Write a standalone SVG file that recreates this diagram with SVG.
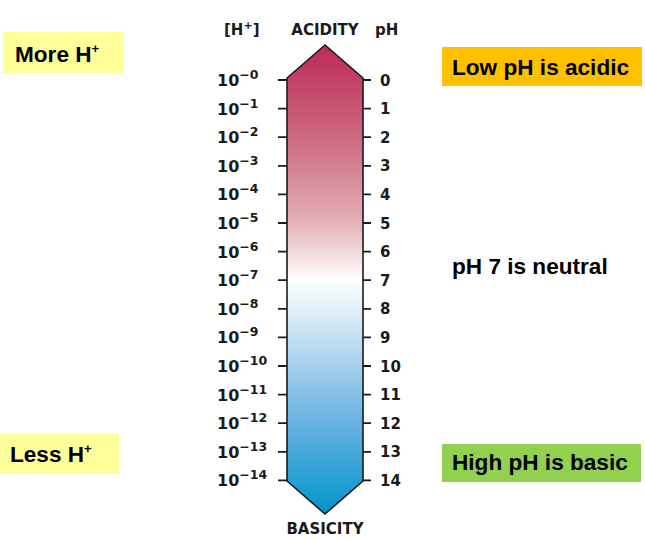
<svg xmlns="http://www.w3.org/2000/svg" width="645" height="540" viewBox="0 0 645 540">
<defs>
<linearGradient id="phgrad" x1="0" y1="45" x2="0" y2="515" gradientUnits="userSpaceOnUse">
<stop offset="0" stop-color="#be2a5a"/>
<stop offset="0.19" stop-color="#cb667d"/>
<stop offset="0.375" stop-color="#e3b0b6"/>
<stop offset="0.46" stop-color="#f6e6e7"/>
<stop offset="0.5" stop-color="#ffffff"/>
<stop offset="0.62" stop-color="#c4e0f2"/>
<stop offset="0.8" stop-color="#6ab2e2"/>
<stop offset="1" stop-color="#0094cc"/>
</linearGradient>
</defs>
<style>
.box{font-family:"Liberation Sans",Arial,sans-serif;font-weight:bold;font-size:22.6px;fill:#000}
.sup{font-size:13px}
.hdr{font-family:"DejaVu Sans",sans-serif;font-weight:bold;font-size:15px;fill:#1a1a1a}
.lab{font-family:"DejaVu Sans",sans-serif;font-weight:bold;font-size:16px;fill:#1a1a1a}
.lsup{font-size:12.5px}
.rlab{font-family:"DejaVu Sans",sans-serif;font-weight:bold;font-size:15px;fill:#1a1a1a}
.tick{stroke:#1a1a1a;stroke-width:1.8}
</style>
<rect width="645" height="540" fill="#fff"/>
<g id="more-h">
<rect x="3" y="32" width="121" height="41" fill="#ffff99"/>
<text class="box" x="15" y="62">More H<tspan class="sup" dy="-9">+</tspan></text>
</g>
<g id="less-h">
<rect x="0" y="434" width="119" height="40" fill="#ffff99"/>
<text class="box" x="10" y="462">Less H<tspan class="sup" dy="-9">+</tspan></text>
</g>
<g id="low-ph">
<rect x="442" y="47" width="200" height="39" fill="#ffc000"/>
<text class="box" x="452" y="75">Low pH is acidic</text>
</g>
<g id="neutral">
<text class="box" x="452" y="274">pH 7 is neutral</text>
</g>
<g id="high-ph">
<rect x="442" y="444" width="199" height="38" fill="#92d050"/>
<text class="box" x="452" y="470">High pH is basic</text>
</g>
<g id="headers">
<text class="hdr" x="224" y="35">[H<tspan font-size="11" dy="-6">+</tspan><tspan dy="6">]</tspan></text>
<text class="hdr" x="325" y="35" text-anchor="middle">ACIDITY</text>
<text class="hdr" x="375" y="35">pH</text>
<text class="hdr" x="325" y="534" text-anchor="middle">BASICITY</text>
</g>
<g id="scale-bar">
<polygon points="325,45 287,78 287,481 325,514 363,481 363,78" fill="url(#phgrad)" stroke="#1a1a1a" stroke-width="1.6" stroke-linejoin="miter"/>
</g>
<g id="ticks">
<path class="tick" d="M278,80H287M278,108.6H287M278,137.2H287M278,165.8H287M278,194.4H287M278,223H287M278,251.6H287M278,280.2H287M278,308.8H287M278,337.4H287M278,366H287M278,394.6H287M278,423.2H287M278,451.8H287M278,480.4H287"/>
<path class="tick" d="M363,80H371M363,108.6H371M363,137.2H371M363,165.8H371M363,194.4H371M363,223H371M363,251.6H371M363,280.2H371M363,308.8H371M363,337.4H371M363,366H371M363,394.6H371M363,423.2H371M363,451.8H371M363,480.4H371"/>
</g>
<g id="h-labels" class="lab">
<text x="217" y="86">10<tspan class="lsup" dy="-7">−0</tspan></text>
<text x="217" y="114.6">10<tspan class="lsup" dy="-7">−1</tspan></text>
<text x="217" y="143.2">10<tspan class="lsup" dy="-7">−2</tspan></text>
<text x="217" y="171.8">10<tspan class="lsup" dy="-7">−3</tspan></text>
<text x="217" y="200.4">10<tspan class="lsup" dy="-7">−4</tspan></text>
<text x="217" y="229">10<tspan class="lsup" dy="-7">−5</tspan></text>
<text x="217" y="257.6">10<tspan class="lsup" dy="-7">−6</tspan></text>
<text x="217" y="286.2">10<tspan class="lsup" dy="-7">−7</tspan></text>
<text x="217" y="314.8">10<tspan class="lsup" dy="-7">−8</tspan></text>
<text x="217" y="343.4">10<tspan class="lsup" dy="-7">−9</tspan></text>
<text x="217" y="372">10<tspan class="lsup" dy="-7">−10</tspan></text>
<text x="217" y="400.6">10<tspan class="lsup" dy="-7">−11</tspan></text>
<text x="217" y="429.2">10<tspan class="lsup" dy="-7">−12</tspan></text>
<text x="217" y="457.8">10<tspan class="lsup" dy="-7">−13</tspan></text>
<text x="217" y="486.4">10<tspan class="lsup" dy="-7">−14</tspan></text>
</g>
<g id="ph-labels" class="rlab">
<text x="380" y="85.5">0</text>
<text x="380" y="114.1">1</text>
<text x="380" y="142.7">2</text>
<text x="380" y="171.3">3</text>
<text x="380" y="199.9">4</text>
<text x="380" y="228.5">5</text>
<text x="380" y="257.1">6</text>
<text x="380" y="285.7">7</text>
<text x="380" y="314.3">8</text>
<text x="380" y="342.9">9</text>
<text x="380" y="371.5">10</text>
<text x="380" y="400.1">11</text>
<text x="380" y="428.7">12</text>
<text x="380" y="457.3">13</text>
<text x="380" y="485.9">14</text>
</g>
</svg>
